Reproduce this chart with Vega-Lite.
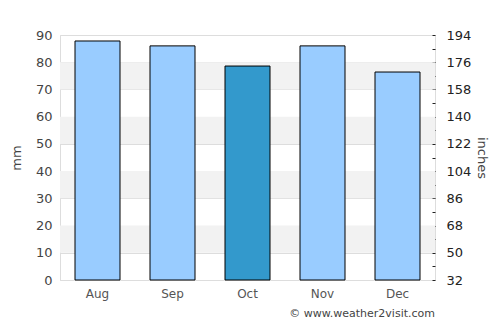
{
  "$schema": "https://vega.github.io/schema/vega-lite/v6.json",
  "autosize": "none",
  "width": 375,
  "height": 245,
  "padding": {"left": 60, "top": 35, "right": 65, "bottom": 45},
  "background": "white",
  "config": {
    "font": "DejaVu Sans",
    "view": {"stroke": "#dddddd"}
  },
  "title": {
    "text": "© www.weather2visit.com",
    "orient": "bottom",
    "anchor": "end",
    "frame": "group",
    "fontSize": 11,
    "fontWeight": "normal",
    "color": "#444444",
    "font": "DejaVu Sans",
    "offset": 9
  },
  "datasets": {
    "rain": [
      {"month": "Aug", "mm": 87.8, "current": "no"},
      {"month": "Sep", "mm": 86, "current": "no"},
      {"month": "Oct", "mm": 78.6, "current": "yes"},
      {"month": "Nov", "mm": 86, "current": "no"},
      {"month": "Dec", "mm": 76.4, "current": "no"}
    ],
    "bands": [
      {"lo": 10, "hi": 20},
      {"lo": 30, "hi": 40},
      {"lo": 50, "hi": 60},
      {"lo": 70, "hi": 80}
    ]
  },
  "layer": [
    {
      "data": {"name": "bands"},
      "mark": {"type": "rect", "color": "#f2f2f2"},
      "encoding": {
        "y": {
          "field": "lo", "type": "quantitative",
          "scale": {"domain": [0, 90], "nice": false},
          "axis": {
            "orient": "left",
            "title": "mm",
            "titleFontSize": 13,
            "titleFontWeight": "normal",
            "titleColor": "#444444",
            "titlePadding": 12,
            "values": [0, 10, 20, 30, 40, 50, 60, 70, 80, 90],
            "labelFontSize": 13,
            "labelColor": "#444444",
            "labelPadding": 8,
            "domain": false,
            "ticks": false,
            "grid": true,
            "gridColor": "#dddddd",
            "gridOpacity": 1
          }
        },
        "y2": {"field": "hi"}
      }
    },
    {
      "data": {"name": "rain"},
      "mark": {"type": "bar", "stroke": "black", "strokeWidth": 1, "width": 45},
      "encoding": {
        "x": {
          "field": "month", "type": "nominal", "sort": null,
          "axis": {
            "title": null,
            "labelAngle": 0,
            "labelFontSize": 12,
            "labelColor": "#555555",
            "labelPadding": 8,
            "domain": true,
            "domainColor": "#dddddd",
            "ticks": false
          }
        },
        "y": {
          "field": "mm", "type": "quantitative",
          "scale": {"domain": [0, 90], "nice": false},
          "axis": {
            "orient": "right",
            "title": "inches",
            "titleFontSize": 13,
            "titleFontWeight": "normal",
            "titleColor": "#444444",
            "titlePadding": 4,
            "values": [0, 5, 10, 15, 20, 25, 30, 35, 40, 45, 50, 55, 60, 65, 70, 75, 80, 85, 90],
            "labelExpr": "datum.value % 10 == 0 ? format(datum.value * 1.8 + 32, 'd') : ''",
            "labelFontSize": 13,
            "labelColor": "#222222",
            "labelPadding": 14,
            "domain": false,
            "ticks": true,
            "tickSize": -3,
            "tickColor": "#222222",
            "grid": false
          }
        },
        "color": {
          "field": "current", "type": "nominal",
          "scale": {"domain": ["no", "yes"], "range": ["#99ccff", "#3399cc"]},
          "legend": null
        }
      }
    }
  ],
  "resolve": {"axis": {"y": "independent"}}
}
